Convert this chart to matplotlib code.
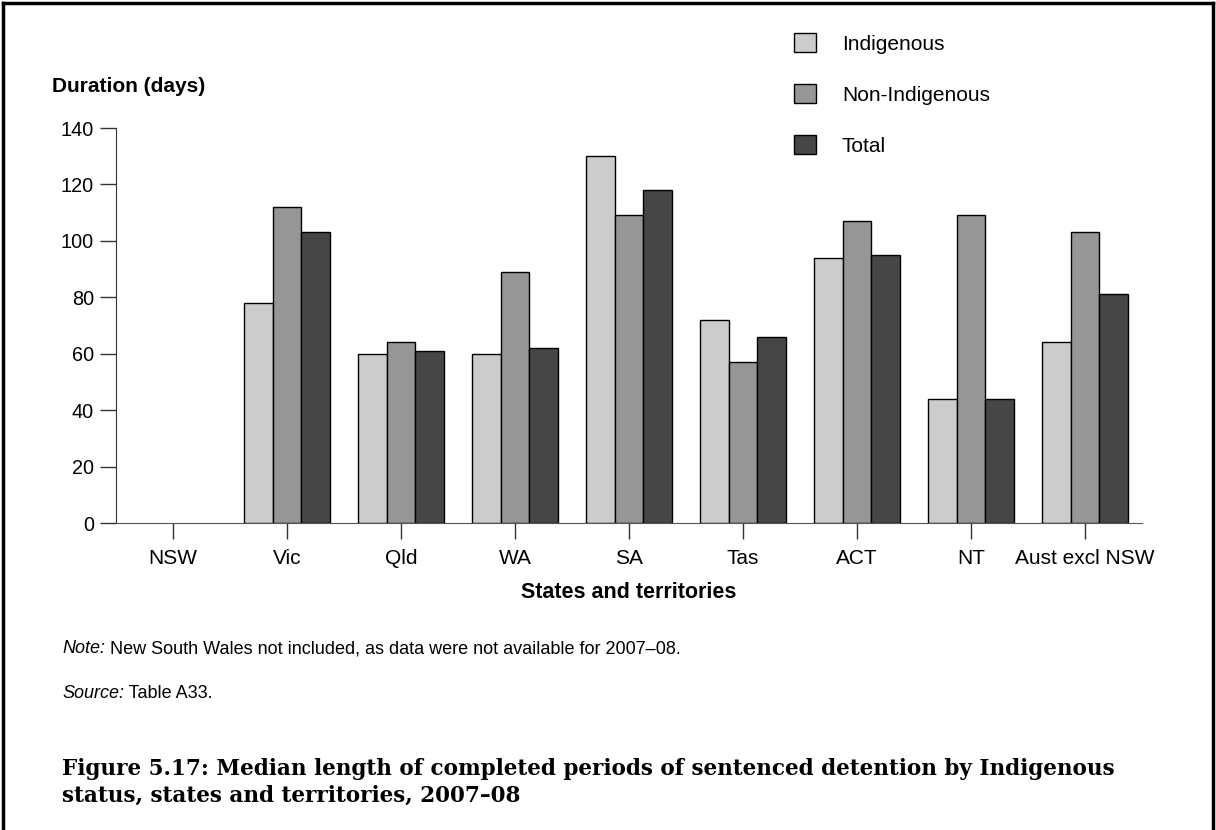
#!/usr/bin/env python3
"""Median length of completed periods of sentenced detention, 2007-08."""

import numpy as np
import matplotlib
matplotlib.use("Agg")
import matplotlib.pyplot as plt
from matplotlib.lines import Line2D

plt.rcParams['font.family'] = ['Liberation Sans', 'DejaVu Sans']

# Data (NSW not available)
states = ['NSW', 'Vic', 'Qld', 'WA', 'SA', 'Tas', 'ACT', 'NT', 'Aust excl NSW']
indigenous = [np.nan, 78, 60, 60, 130, 72, 94, 44, 64]
non_indigenous = [np.nan, 112, 64, 89, 109, 57, 107, 109, 103]
total = [np.nan, 103, 61, 62, 118, 66, 95, 44, 81]

series = [
    ('Indigenous', indigenous, '#cccccc'),
    ('Non-Indigenous', non_indigenous, '#969696'),
    ('Total', total, '#464646'),
]

W, H = 1216, 830


def fx(px):
    return px / W


def fy(px):
    return 1 - px / H


fig = plt.figure(figsize=(W / 100, H / 100), dpi=100)
ax = fig.add_axes([fx(116), fy(523), (1142 - 116) / W, (523 - 128) / H])

x = np.arange(len(states))
width = 0.25
for i, (label, vals, color) in enumerate(series):
    ax.bar(x + (i - 1) * width, vals, width, color=color, edgecolor='black',
           linewidth=1.0, label=label, zorder=2)

ax.set_xlim(-0.5, len(states) - 0.5)
ax.set_ylim(0, 140)
ax.set_yticks(range(0, 141, 20))
ax.set_xticks(x)
ax.set_xticklabels(states)

ax.spines['top'].set_visible(False)
ax.spines['right'].set_visible(False)
ax.spines['left'].set_color('#333333')
ax.spines['bottom'].set_color('#555555')
ax.tick_params(axis='both', direction='out', length=11.5, width=1.0,
               colors='#333333', labelcolor='black')
ax.tick_params(axis='y', pad=4.5, labelsize=14.3)
ax.tick_params(axis='x', pad=7, labelsize=15)

ax.set_xlabel('States and territories', fontsize=15.5, fontweight='bold', labelpad=10)
fig.text(fx(52), fy(92), 'Duration (days)', fontsize=15,
         fontweight='bold', va='baseline', ha='left')

leg = ax.legend(loc='upper left', bbox_to_anchor=(fx(794), fy(33)),
                bbox_transform=fig.transFigure, frameon=False, fontsize=15,
                handlelength=1.05, handleheight=1.05, handletextpad=1.25,
                labelspacing=1.45, borderaxespad=0, borderpad=0)


# Notes and caption
def note(y, lead, rest):
    t = fig.text(fx(62), fy(y), lead, fontsize=13, style='italic',
                 va='baseline', ha='left')
    ax.annotate(' ' + rest, xy=(1, 0), xycoords=t, fontsize=13,
                va='bottom', ha='left', annotation_clip=False)


note(653, 'Note:', 'New South Wales not included, as data were not available for 2007–08.')
note(698, 'Source:', 'Table A33.')

caption1 = 'Figure 5.17: Median length of completed periods of sentenced detention by Indigenous'
caption2 = 'status, states and territories, 2007–08'
cap = fig.text(fx(62), fy(775), caption1, fontsize=16, fontweight='bold',
               family='DejaVu Serif', va='baseline', ha='left')
# scale caption so the first line spans the same width as in the original
renderer = fig.canvas.get_renderer()
size = 16 * (1117 - 62) / cap.get_window_extent(renderer).width
cap.set_fontsize(size)
fig.text(fx(62), fy(802), caption2, fontsize=size, fontweight='bold',
         family='DejaVu Serif', va='baseline', ha='left')

# Page border (left, top, right)
for xs, ys in [([3, 3], [830, 3]), ([3, 1213], [3, 3]), ([1213, 1213], [3, 830])]:
    fig.add_artist(Line2D([fx(v) for v in xs], [fy(v) for v in ys],
                          color='black', linewidth=2.5, transform=fig.transFigure))

fig.savefig('out.png', dpi=100)
